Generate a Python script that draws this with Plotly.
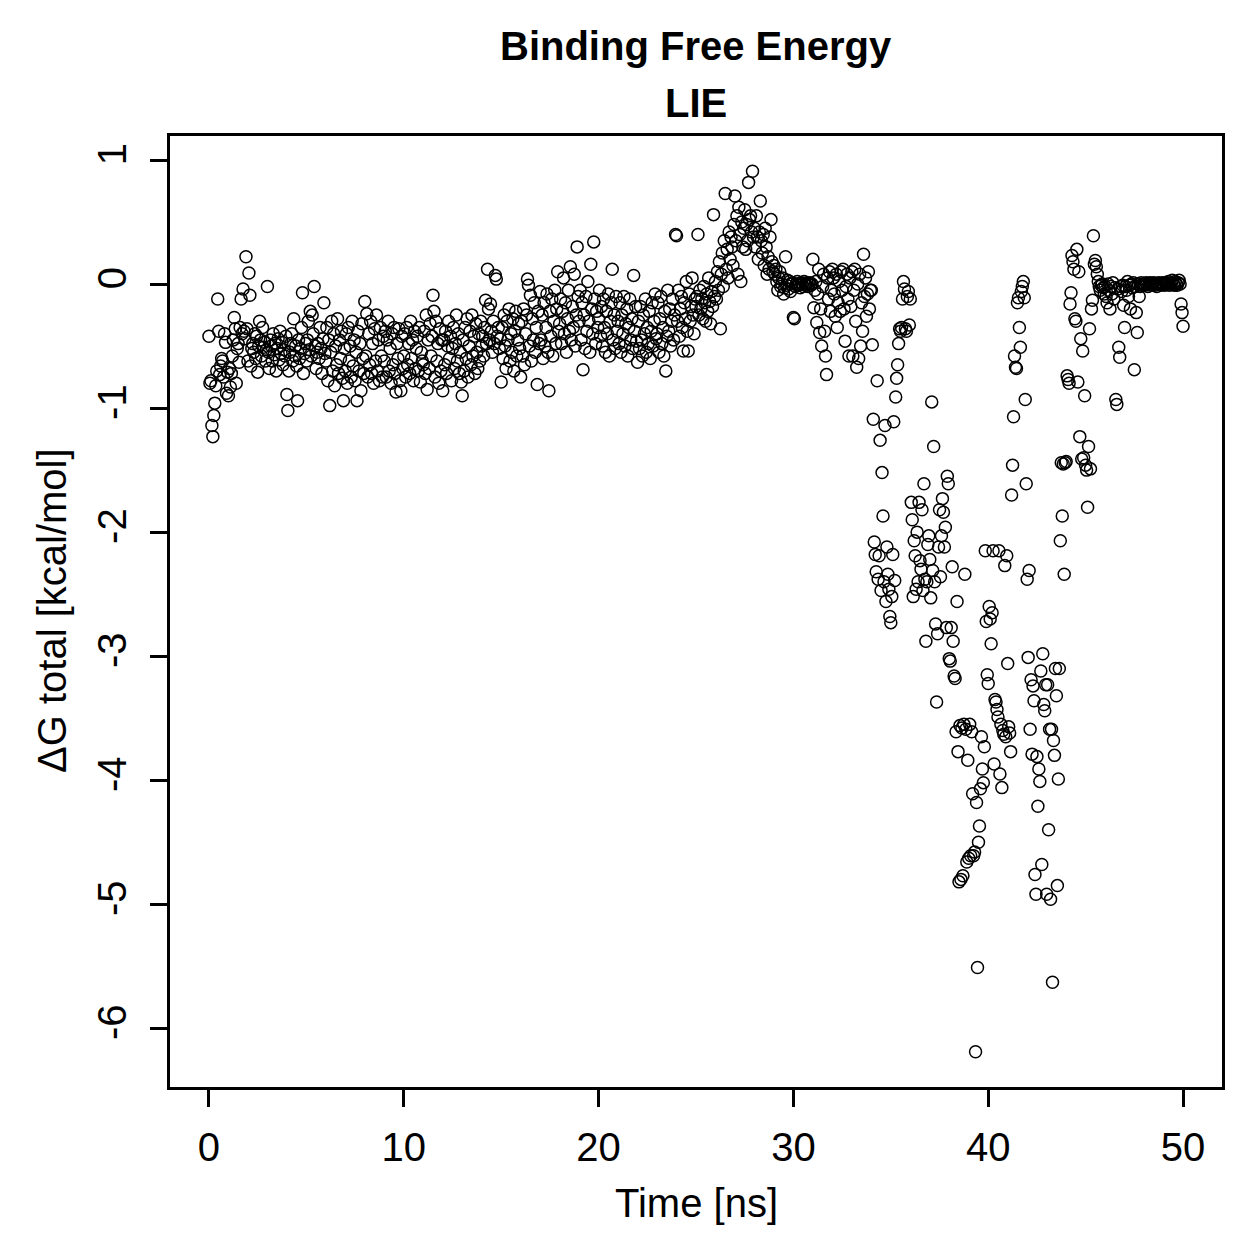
import plotly.graph_objects as go

# Delta G total [kcal/mol], one row per nanosecond, frames every 0.05 ns
frame_step = 0.05

dg_00_10 = [
    [-0.42,-0.80,-0.78,-1.14,-1.23,-1.06,-0.96,-0.82,-0.70,-0.12,-0.38,-0.73,-0.66,-0.60,-0.62,-0.75,-0.40,-0.47,-0.88,-0.71],
    [-0.90,-0.68,-0.83,-0.72,-0.58,-0.45,-0.27,-0.36,-0.80,-0.52,-0.48,-0.63,-0.35,-0.12,-0.40,-0.04,-0.38,-0.44,0.22,-0.36],
    [-0.62,0.09,-0.09,-0.66,-0.52,-0.48,-0.55,-0.40,-0.60,-0.42,-0.71,-0.50,-0.30,-0.45,-0.58,-0.35,-0.51,-0.47,-0.62,-0.53],
    [-0.02,-0.55,-0.68,-0.45,-0.50,-0.62,-0.40,-0.57,-0.48,-0.70,-0.52,-0.44,-0.61,-0.38,-0.56,-0.47,-0.65,-0.53,-0.58,-0.42],
    [-0.89,-1.02,-0.70,-0.55,-0.48,-0.40,-0.62,-0.28,-0.58,-0.50,-0.66,-0.94,-0.45,-0.60,-0.52,-0.35,-0.07,-0.72,-0.56,-0.48],
    [-0.62,-0.45,-0.30,-0.53,-0.22,-0.58,-0.25,-0.40,-0.02,-0.50,-0.68,-0.55,-0.48,-0.60,-0.35,-0.52,-0.72,-0.44,-0.15,-0.56],
    [-0.62,-0.35,-0.78,-0.45,-0.98,-0.55,-0.30,-0.70,-0.40,-0.82,-0.50,-0.65,-0.28,-0.72,-0.45,-0.60,-0.38,-0.76,-0.94,-0.52],
    [-0.70,-0.40,-0.80,-0.35,-0.62,-0.50,-0.75,-0.30,-0.66,-0.45,-0.78,-0.55,-0.94,-0.38,-0.70,-0.48,-0.86,-0.32,-0.60,-0.72],
    [-0.14,-0.58,-0.24,-0.75,-0.40,-0.65,-0.30,-0.72,-0.48,-0.80,-0.36,-0.62,-0.25,-0.70,-0.45,-0.78,-0.35,-0.58,-0.75,-0.42],
    [-0.62,-0.38,-0.75,-0.45,-0.30,-0.70,-0.52,-0.80,-0.40,-0.65,-0.35,-0.72,-0.87,-0.48,-0.60,-0.36,-0.78,-0.86,-0.42,-0.68],
]

dg_10_20 = [
    [-0.58,-0.40,-0.75,-0.35,-0.65,-0.48,-0.72,-0.30,-0.60,-0.45,-0.78,-0.38,-0.68,-0.52,-0.42,-0.70,-0.35,-0.79,-0.55,-0.62],
    [-0.65,-0.38,-0.72,-0.25,-0.85,-0.45,-0.68,-0.32,-0.58,-0.42,-0.09,-0.22,-0.75,-0.30,-0.62,-0.48,-0.80,-0.36,-0.70,-0.45],
    [-0.86,-0.45,-0.65,-0.38,-0.72,-0.50,-0.30,-0.60,-0.42,-0.78,-0.52,-0.35,-0.68,-0.48,-0.25,-0.62,-0.40,-0.72,-0.55,-0.79],
    [-0.90,-0.45,-0.70,-0.35,-0.60,-0.28,-0.75,-0.50,-0.38,-0.65,-0.25,-0.58,-0.42,-0.72,-0.32,-0.55,-0.68,-0.40,-0.62,-0.30],
    [-0.50,-0.42,-0.58,-0.35,-0.13,-0.48,0.12,-0.20,-0.45,-0.16,-0.38,-0.55,-0.30,-0.48,0.07,0.04,-0.42,-0.35,-0.52,-0.44],
    [-0.79,-0.35,-0.60,-0.25,-0.50,-0.68,-0.30,-0.45,-0.20,-0.62,-0.40,-0.55,-0.28,-0.70,-0.38,-0.22,-0.58,-0.45,-0.32,-0.52],
    [-0.75,-0.30,-0.58,-0.20,-0.65,-0.40,-0.25,0.04,-0.01,-0.50,-0.09,-0.62,-0.28,-0.45,-0.15,-0.55,-0.35,-0.81,-0.22,-0.48],
    [-0.06,-0.45,-0.25,-0.60,-0.15,-0.50,-0.35,-0.08,-0.55,-0.86,-0.22,-0.42,-0.12,-0.58,-0.30,-0.05,-0.48,-0.20,0.10,-0.38],
    [-0.32,-0.12,-0.48,-0.22,0.05,-0.40,-0.15,-0.55,-0.28,-0.05,-0.38,0.14,-0.45,-0.18,-0.35,0.08,-0.50,-0.25,0.30,-0.10],
    [-0.30,-0.05,-0.45,-0.15,-0.69,-0.25,-0.52,-0.10,-0.38,0.02,-0.30,-0.55,0.16,-0.20,-0.40,0.34,-0.12,-0.48,-0.22,-0.35],
]

dg_20_30 = [
    [-0.28,-0.05,-0.42,-0.18,-0.50,-0.12,-0.35,-0.55,-0.22,-0.40,-0.08,-0.58,-0.30,-0.15,0.12,-0.45,-0.25,-0.52,-0.10,-0.38],
    [-0.30,-0.48,-0.15,-0.55,-0.25,-0.40,-0.10,-0.50,-0.32,-0.20,-0.58,-0.35,-0.12,-0.45,-0.28,-0.52,0.07,-0.38,-0.18,-0.46],
    [-0.63,-0.30,-0.52,-0.18,-0.45,-0.58,-0.25,-0.40,-0.12,-0.55,-0.35,-0.48,-0.22,-0.60,-0.38,-0.15,-0.50,-0.30,-0.08,-0.44],
    [-0.40,-0.15,-0.55,-0.28,-0.10,-0.48,-0.35,-0.58,-0.22,-0.70,-0.42,-0.05,-0.38,-0.20,-0.50,-0.30,-0.12,-0.45,-0.25,0.40],
    [0.39,-0.30,-0.05,-0.42,-0.20,-0.10,-0.35,-0.54,-0.15,-0.28,0.02,-0.38,-0.54,-0.08,-0.30,-0.18,0.05,-0.25,-0.40,-0.12],
    [-0.18,-0.10,0.40,-0.25,-0.05,-0.20,-0.12,-0.28,-0.02,-0.15,-0.30,-0.08,-0.22,0.05,-0.14,-0.32,-0.06,-0.18,0.56,-0.10],
    [0.02,-0.12,0.10,-0.05,0.18,-0.36,0.08,0.25,-0.02,0.35,0.73,0.12,0.28,0.05,0.42,0.20,0.38,0.30,0.15,0.48],
    [0.71,0.35,0.55,0.08,0.62,0.40,0.02,0.50,0.30,0.45,0.60,0.28,0.48,0.35,0.82,0.52,0.55,0.42,0.91,0.38],
    [0.45,0.30,0.55,0.38,0.20,0.42,0.67,0.35,0.25,0.40,0.15,0.45,0.30,0.08,0.22,0.12,0.38,0.52,0.18,0.10],
    [0.15,0.08,0.12,0.02,-0.05,0.05,0.10,-0.02,0.00,0.05,-0.08,-0.03,0.22,-0.01,0.03,-0.04,0.02,-0.06,0.00,0.01],
]

dg_30_40 = [
    [-0.27,-0.28,-0.02,0.00,0.02,-0.01,0.00,-0.03,0.01,0.00,-0.02,0.02,0.00,-0.01,0.01,-0.02,0.00,0.01,-0.01,0.00],
    [0.20,-0.19,-0.05,0.02,-0.31,-0.08,0.12,-0.39,-0.20,-0.50,-0.02,0.08,-0.38,-0.58,-0.73,0.05,-0.12,0.10,-0.22,-0.05],
    [0.12,0.05,-0.08,-0.26,0.08,-0.35,-0.15,0.02,-0.22,0.10,-0.05,0.12,-0.20,-0.46,-0.02,0.08,-0.12,-0.58,0.05,-0.18],
    [0.10,-0.58,-0.05,0.12,-0.30,-0.67,0.00,-0.60,0.08,-0.50,-0.15,-0.38,0.24,-0.10,0.05,-0.26,-0.08,0.10,-0.20,-0.05],
    [-0.05,-0.49,-1.09,-2.08,-2.18,-2.32,-0.78,-2.38,-2.19,-1.26,-2.47,-1.52,-1.87,-2.40,-1.14,-2.56,-2.12,-2.34,-2.46,-2.68],
    [-2.73,-2.52,-2.18,-1.11,-2.39,-0.91,-0.76,-0.65,-0.48,-0.36,-0.38,-0.35,-0.12,0.02,-0.04,-0.36,-0.38,-0.10,-0.06,-0.33],
    [-0.12,-1.76,-1.90,-2.52,-2.07,-2.19,-2.46,-2.00,-2.40,-1.76,-2.23,-2.30,-1.82,-2.47,-1.61,-2.38,-2.88,-2.40,-2.10,-2.03],
    [-2.22,-2.53,-0.95,-2.31,-1.31,-2.40,-2.74,-3.37,-2.82,-2.12,-1.82,-2.36,-2.03,-1.73,-1.84,-2.12,-1.96,-2.77,-1.55,-1.61],
    [-3.02,-3.04,-2.77,-2.28,-2.88,-3.16,-3.18,-3.61,-2.56,-3.77,-4.82,-3.56,-4.80,-3.58,-4.77,-3.55,-2.34,-3.59,-4.66,-3.84],
    [-4.63,-3.55,-4.61,-3.61,-4.11,-4.61,-4.58,-6.19,-4.18,-5.51,-4.50,-4.37,-4.07,-3.65,-3.91,-4.02,-3.73,-2.15,-2.72,-3.15],
]

dg_40_50 = [
    [-3.22,-2.60,-2.70,-2.90,-2.65,-2.15,-3.87,-3.35,-3.37,-3.43,-3.49,-2.15,-3.95,-3.55,-4.06,-3.60,-3.63,-2.27,-3.65,-2.19],
    [-3.06,-3.57,-3.62,-3.77,-1.70,-1.46,-1.07,-0.58,-0.67,-0.68,-0.15,-0.11,-0.35,-0.51,-0.06,-0.02,0.02,-0.11,-0.93,-1.61],
    [-2.38,-3.01,-2.31,-3.59,-3.19,-3.79,-3.24,-3.36,-4.76,-4.92,-3.81,-4.21,-3.91,-4.01,-3.12,-4.68,-2.98,-3.39,-3.44,-3.23],
    [-4.92,-3.23,-4.40,-3.59,-4.96,-3.59,-5.63,-3.68,-3.80,-3.10,-3.32,-4.85,-3.99,-3.10,-2.07,-1.44,-1.87,-1.45,-2.34,-1.44],
    [-1.43,-0.74,-0.77,-0.80,-0.16,-0.07,0.23,0.18,0.12,-0.28,-0.30,0.28,-0.79,0.10,-1.23,-0.44,-1.41,-0.54,-1.40,-0.90],
    [-1.46,-1.50,-1.80,-1.31,-0.36,-1.49,-0.20,-0.13,0.39,0.16,0.19,0.14,0.08,0.02,-0.02,-0.05,-0.01,0.00,-0.03,-0.08],
    [-0.02,-0.10,-0.15,0.00,-0.05,-0.20,-0.02,-0.08,0.01,-0.12,-0.03,-0.93,-0.97,-0.04,-0.51,-0.59,-0.02,-0.06,-0.01,-0.17],
    [-0.35,-0.02,-0.05,0.02,-0.10,-0.01,-0.20,0.00,-0.03,0.01,-0.69,-0.02,-0.23,-0.39,0.00,-0.10,-0.02,0.01,-0.01,0.00],
    [0.00,-0.01,0.01,0.00,-0.02,0.00,0.01,-0.01,0.00,0.00,0.01,-0.01,0.00,-0.02,0.00,0.01,0.00,-0.01,0.00,0.01],
    [0.00,-0.01,0.01,0.00,0.00,0.02,-0.01,0.00,0.01,0.03,0.00,-0.01,0.02,0.00,-0.01,0.01,0.03,0.00,-0.16,-0.23],
    [-0.34],
]

segment_starts = [0, 10, 20, 30, 40]
segments = [dg_00_10, dg_10_20, dg_20_30, dg_30_40, dg_40_50]

x_ticks = [0, 10, 20, 30, 40, 50]
y_ticks = [-6, -5, -4, -3, -2, -1, 0, 1]

time_ns, dg_total = [], []
for start, seg in zip(segment_starts, segments):
    for k, row in enumerate(seg):
        for j, v in enumerate(row):
            time_ns.append(round(start + k + j * frame_step, 3))
            dg_total.append(v)

FONT = "Liberation Sans, Arial, Helvetica, sans-serif"

fig = go.Figure()
fig.add_trace(go.Scatter(
    x=time_ns, y=dg_total, mode="markers",
    marker=dict(symbol="circle-open", size=12, color="black",
                line=dict(width=1.5, color="black")),
    showlegend=False, hoverinfo="x+y",
))

axis_common = dict(
    showgrid=False, zeroline=False, showline=True, mirror=True,
    linecolor="black", linewidth=2.5, ticks="outside", ticklen=17,
    tickwidth=2.5, tickcolor="black",
    tickfont=dict(family=FONT, size=40, color="black"),
)

fig.update_layout(
    width=1259, height=1259,
    margin=dict(l=170, r=37, t=136, b=172),
    paper_bgcolor="white", plot_bgcolor="white",
    xaxis=dict(range=[-2, 52], tickvals=x_ticks, ticktext=[str(v) for v in x_ticks],
               ticklabelstandoff=6, **axis_common),
    yaxis=dict(range=[-6.474, 1.194], tickvals=y_ticks, ticktext=[str(v) for v in y_ticks],
               tickangle=-90, ticklabelstandoff=8, **axis_common),
    annotations=[
        dict(text="<b>Binding Free Energy</b>", xref="paper", yref="paper",
             x=0.5, y=(1087 - 46) / 951, xanchor="center", yanchor="middle",
             showarrow=False, font=dict(family=FONT, size=40, color="black")),
        dict(text="<b>LIE</b>", xref="paper", yref="paper",
             x=0.5, y=(1087 - 103) / 951, xanchor="center", yanchor="middle",
             showarrow=False, font=dict(family=FONT, size=40, color="black")),
        dict(text="Time [ns]", xref="paper", yref="paper",
             x=0.5, y=(1087 - 1203) / 951, xanchor="center", yanchor="middle",
             showarrow=False, font=dict(family=FONT, size=40, color="black")),
        dict(text="ΔG total [kcal/mol]", xref="paper", yref="paper",
             x=(52 - 170) / 1052, y=(1087 - 611) / 951, xanchor="center", yanchor="middle",
             textangle=-90, showarrow=False, font=dict(family=FONT, size=40, color="black")),
    ],
)

fig.write_html("out.html")
